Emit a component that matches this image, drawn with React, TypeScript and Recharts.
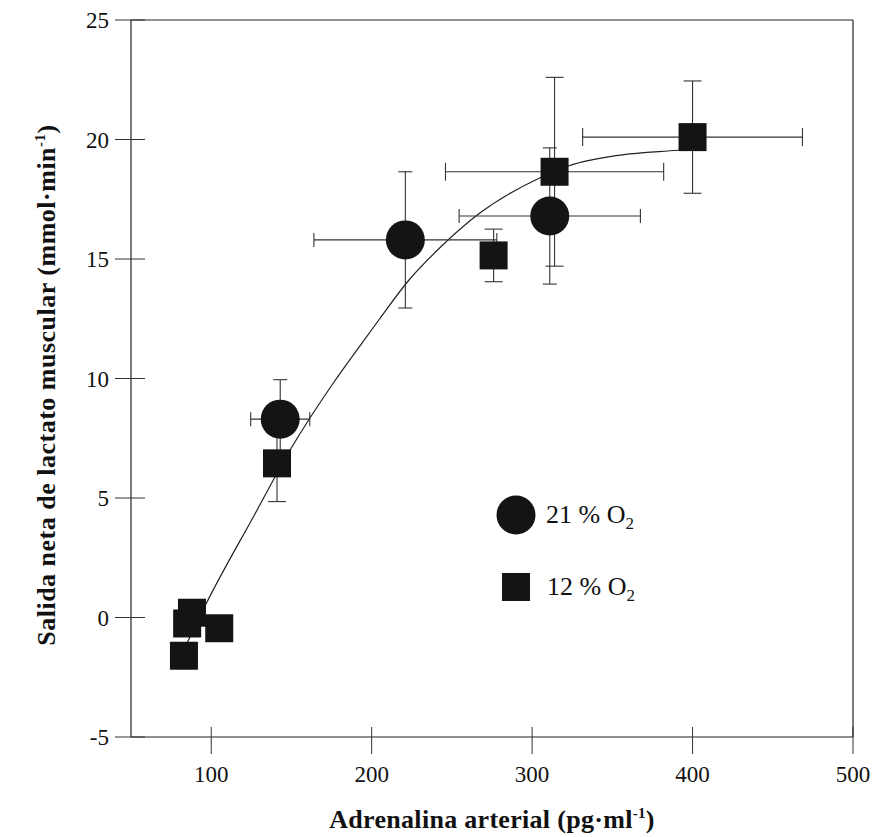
import React from "react"
import {
  ComposedChart,
  ErrorBar,
  Legend,
  Line,
  ReferenceLine,
  Scatter,
  XAxis,
  YAxis,
} from "recharts"

const FONT = "'Liberation Serif', 'Times New Roman', serif"
const INK = "#141414"

const X_TICKS = [100, 200, 300, 400, 500]
const Y_TICKS = [-5, 0, 5, 10, 15, 20, 25]

// 21 % O2 (circles)
const NORMOXIA = [
  { x: 143, y: 8.3, ex: 18.4, ey: 1.65 },
  { x: 221, y: 15.8, ex: 57, ey: 2.85 },
  { x: 311, y: 16.8, ex: 56.5, ey: 2.85 },
]

// 12 % O2 (squares)
const HYPOXIA = [
  { x: 83, y: -1.6, ex: 0, ey: 0 },
  { x: 85, y: -0.25, ex: 0, ey: 0 },
  { x: 88, y: 0.2, ex: 0, ey: 0 },
  { x: 105, y: -0.45, ex: 0, ey: 0 },
  { x: 141, y: 6.45, ex: 0, ey: 1.6 },
  { x: 276, y: 15.15, ex: 0, ey: 1.1 },
  { x: 314, y: 18.65, ex: 68, ey: 3.95 },
  { x: 400, y: 20.1, ex: 68.5, ey: 2.35 },
]

// fitted curve
const FIT = [
  { x: 84, y: -1.2 },
  { x: 97, y: 0.6 },
  { x: 127, y: 4.3 },
  { x: 150, y: 7.1 },
  { x: 176, y: 9.8 },
  { x: 192, y: 11.3 },
  { x: 205, y: 12.5 },
  { x: 223, y: 14.1 },
  { x: 243, y: 15.5 },
  { x: 267, y: 16.9 },
  { x: 305, y: 18.4 },
  { x: 323, y: 18.9 },
  { x: 355, y: 19.35 },
  { x: 391, y: 19.55 },
  { x: 400, y: 19.6 },
]

function XTick({ x, y, payload }: any) {
  return (
    <g>
      <line x1={x} x2={x} y1={y - 10} y2={y + 17} stroke="#333" strokeWidth={1} />
      <text x={x} y={y + 45} textAnchor="middle" fontFamily={FONT} fontSize={23} fill="#111">
        {payload.value}
      </text>
    </g>
  )
}

function YTick({ x, y, payload }: any) {
  return (
    <g>
      <line x1={x - 16} x2={x + 14} y1={y} y2={y} stroke="#333" strokeWidth={1} />
      <text x={x - 22} y={y + 8} textAnchor="end" fontFamily={FONT} fontSize={23} fill="#111">
        {payload.value}
      </text>
    </g>
  )
}

function XTitle() {
  return (
    <text
      x={492}
      y={828}
      textAnchor="middle"
      fontFamily={FONT}
      fontSize={26}
      letterSpacing={0.3}
      fontWeight="bold"
      fill="#111"
    >
      Adrenalina arterial (pg·ml
      <tspan dy={-10} fontSize={15}>-1</tspan>
      <tspan dy={10}>)</tspan>
    </text>
  )
}

function YTitle() {
  return (
    <text
      x={55}
      y={385}
      transform="rotate(-90, 55, 385)"
      textAnchor="middle"
      fontFamily={FONT}
      fontSize={26}
      letterSpacing={0.5}
      fontWeight="bold"
      fill="#111"
    >
      Salida neta de lactato muscular (mmol·min
      <tspan dy={-10} fontSize={15}>-1</tspan>
      <tspan dy={10}>)</tspan>
    </text>
  )
}

const circleShape = (props: any) => <circle cx={props.cx} cy={props.cy} r={19.5} fill={INK} />
const squareShape = (props: any) => (
  <rect x={props.cx - 14} y={props.cy - 14} width={28} height={28} fill={INK} />
)

function LegendBox() {
  return (
    <svg width={170} height={115} style={{ display: "block" }}>
      <circle cx={24} cy={23} r={19.5} fill={INK} />
      <text x={54} y={31} fontFamily={FONT} fontSize={26} fill="#111">
        21 % O<tspan dy={6} fontSize={17}>2</tspan>
      </text>
      <rect x={10} y={81} width={28} height={28} fill={INK} />
      <text x={55} y={103} fontFamily={FONT} fontSize={26} fill="#111">
        12 % O<tspan dy={6} fontSize={17}>2</tspan>
      </text>
    </svg>
  )
}

export default function App() {
  return (
    <div style={{ position: "absolute", left: 0, top: 0, width: 881, height: 837, background: "#fff" }}>
      <ComposedChart width={881} height={837} margin={{ top: 20, right: 28, bottom: 0, left: 0 }}>
        <XAxis
          type="number"
          dataKey="x"
          domain={[50, 500]}
          ticks={X_TICKS}
          height={100}
          tickSize={0}
          tickMargin={0}
          tick={<XTick />}
          axisLine={{ stroke: "#222", strokeWidth: 1.2 }}
          label={{ content: () => <XTitle /> }}
        />
        <YAxis
          type="number"
          dataKey="y"
          domain={[-5, 25]}
          ticks={Y_TICKS}
          width={131}
          tickSize={0}
          tickMargin={0}
          tick={<YTick />}
          axisLine={{ stroke: "#222", strokeWidth: 1.2 }}
          label={{ content: () => <YTitle /> }}
        />
        <ReferenceLine y={25} stroke="#222" strokeWidth={1.2} />
        <ReferenceLine x={500} stroke="#222" strokeWidth={1.2} />
        <Line
          data={FIT}
          dataKey="y"
          type="monotone"
          stroke="#222"
          strokeWidth={1.2}
          dot={false}
          activeDot={false}
          isAnimationActive={false}
        />
        <Scatter data={NORMOXIA} dataKey="y" shape={circleShape} isAnimationActive={false}>
          <ErrorBar dataKey="ey" direction="y" width={7} stroke="#333" strokeWidth={1.1} />
          <ErrorBar dataKey="ex" direction="x" width={7} stroke="#333" strokeWidth={1.1} />
        </Scatter>
        <Scatter data={HYPOXIA} dataKey="y" shape={squareShape} isAnimationActive={false}>
          <ErrorBar dataKey="ey" direction="y" width={9} stroke="#333" strokeWidth={1.1} />
          <ErrorBar dataKey="ex" direction="x" width={9} stroke="#333" strokeWidth={1.1} />
        </Scatter>
        <Legend
          layout="vertical"
          align="center"
          verticalAlign="middle"
          content={() => <LegendBox />}
          wrapperStyle={{ left: 492, top: 492, width: 170, height: 115 }}
        />
      </ComposedChart>
    </div>
  )
}
